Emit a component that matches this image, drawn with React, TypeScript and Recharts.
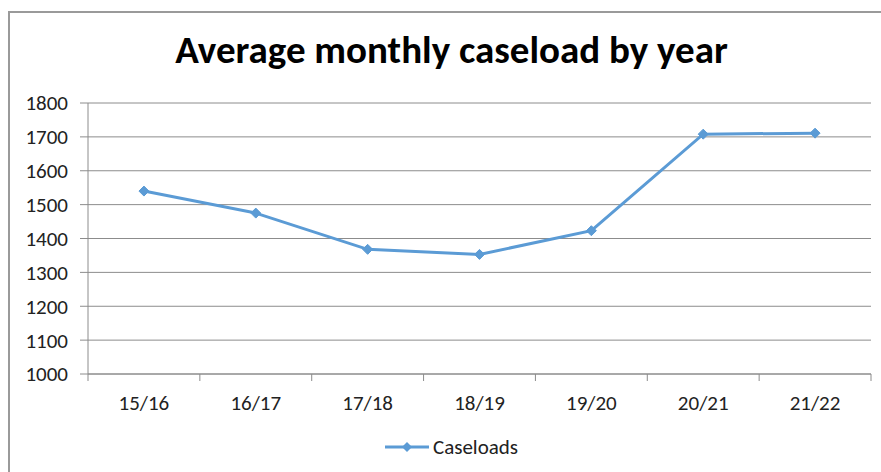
import React from 'react';
import { LineChart, Line, XAxis, YAxis, CartesianGrid, Legend } from 'recharts';

const categories = ['15/16', '16/17', '17/18', '18/19', '19/20', '20/21', '21/22'];
const caseloads = [1540, 1475, 1368, 1353, 1423, 1708, 1711];
const yTicks = [1000, 1100, 1200, 1300, 1400, 1500, 1600, 1700, 1800];

const data = categories.map((year, i) => ({ year, caseloads: caseloads[i] }));

const FONT = 'Carlito, Lato, "Liberation Sans", sans-serif';
const BLUE = '#5b9bd5';
const GRID = '#8c8c8c';
const X_TICK_SIZE = 7;
const X_TICK_MARGIN = 14;

// Excel-like diamond marker
const Diamond = (props: any) => {
  const { cx, cy } = props;
  if (cx == null || cy == null) return null;
  const r = 5;
  return (
    <path
      key={`d-${cx}`}
      d={`M${cx},${cy - r}L${cx + r},${cy}L${cx},${cy + r}L${cx - r},${cy}Z`}
      fill={BLUE}
      stroke={BLUE}
    />
  );
};

// category label plus Excel-style tick marks on band boundaries
const CategoryTick = (props: any) => {
  const { x, y, payload, index, width, visibleTicksCount } = props;
  const bw = Number(width) / visibleTicksCount;
  const left = x - bw / 2;
  const base = y - X_TICK_SIZE - X_TICK_MARGIN;
  return (
    <g>
      <line x1={left} y1={base} x2={left} y2={base + X_TICK_SIZE} stroke={GRID} />
      {index === visibleTicksCount - 1 && (
        <line x1={left + bw} y1={base} x2={left + bw} y2={base + X_TICK_SIZE} stroke={GRID} />
      )}
      <text x={x} y={y} dy="0.71em" textAnchor="middle" fontSize={21} fill="#222" fontFamily={FONT}>
        {payload.value}
      </text>
    </g>
  );
};

const LegendContent = () => (
  <div style={{ display: 'flex', justifyContent: 'center', alignItems: 'center', fontFamily: FONT }}>
    <svg width={44} height={12} style={{ marginRight: 4 }}>
      <line x1={0} y1={6} x2={44} y2={6} stroke={BLUE} strokeWidth={3} />
      <path d="M22,1L27,6L22,11L17,6Z" fill={BLUE} />
    </svg>
    <span style={{ fontSize: 21, color: '#222' }}>Caseloads</span>
  </div>
);

export default function App() {
  return (
    <div style={{ position: 'fixed', left: 0, top: 0, width: 881, height: 472, overflow: 'hidden', background: '#fff' }}>
      <div
        style={{
          position: 'absolute', left: 8, top: 11, width: 1000, height: 1000,
          border: '2px solid #9a9a9a',
        }}
      />
      <div
        style={{
          position: 'absolute', left: 0, top: 26, width: 903, textAlign: 'center',
          fontFamily: FONT, fontWeight: 700, fontSize: 39, color: '#000',
        }}
      >
        Average monthly caseload by year
      </div>
      <div style={{ position: 'absolute', left: 0, top: 0 }}>
        <LineChart width={881} height={472} data={data} margin={{ top: 103, right: 10, left: 0, bottom: 58 }}>
          <CartesianGrid horizontal vertical={false} stroke={GRID} strokeWidth={1} />
          <XAxis
            dataKey="year"
            scale="band"
            stroke={GRID}
            tickLine={false}
            tickSize={X_TICK_SIZE}
            height={40}
            tickMargin={X_TICK_MARGIN}
            tick={CategoryTick}
            interval={0}
          />
          <YAxis
            domain={[1000, 1800]}
            ticks={yTicks}
            width={88}
            tickSize={8}
            tickMargin={12}
            stroke={GRID}
            tick={{ fontSize: 21, fill: '#222', fontFamily: FONT }}
            interval={0}
          />
          <Line
            dataKey="caseloads"
            name="Caseloads"
            stroke={BLUE}
            strokeWidth={3}
            dot={Diamond}
            activeDot={false}
            isAnimationActive={false}
          />
          <Legend verticalAlign="middle" wrapperStyle={{ top: 434, left: 0, width: 903 }} content={LegendContent} />
        </LineChart>
      </div>
    </div>
  );
}
